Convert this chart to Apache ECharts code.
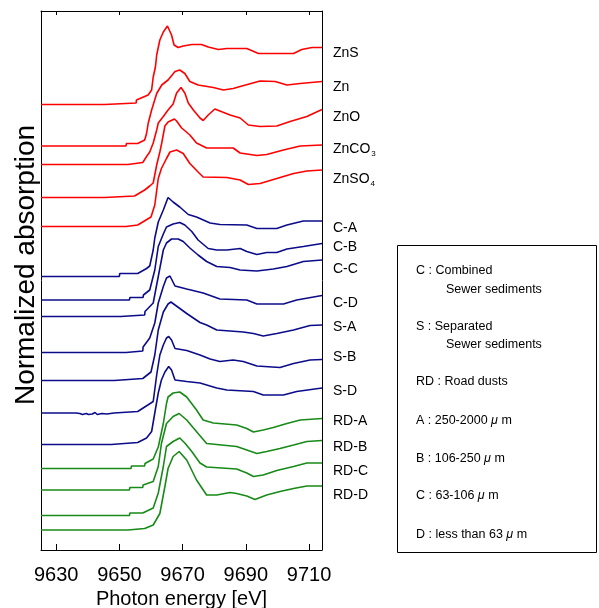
<!DOCTYPE html>
<html>
<head>
<meta charset="utf-8">
<script src="https://cdn.jsdelivr.net/npm/echarts@6/dist/echarts.min.js"></script>
<style>
html,body{margin:0;padding:0;background:#fff;}
#chart{width:599px;height:608px;}
</style>
</head>
<body>
<div id="chart"></div>
<script>
// ---------- data (energy eV, normalized absorption above pre-edge) ----------
const seriesNames = ['ZnS','Zn','ZnO','ZnCO3','ZnSO4','C-A','C-B','C-C','C-D','S-A','S-B','S-D','RD-A','RD-B','RD-C','RD-D'];
const stackOffsets = [8.91, 8.08, 7.71, 7.05, 6.47, 5.47, 5.00, 4.67, 3.95, 3.39, 2.74, 2.11, 1.63, 1.20, 0.69, 0.40];
const xTicks = [9630, 9650, 9670, 9690, 9710];

const ZnS = [[9625.2,0],[9645.3,0],[9645.4,0.03],[9655.3,0.03],[9655.4,0.09],[9659.1,0.19],[9660.2,0.29],[9660.7,0.55],[9661.4,0.75],[9661.8,0.99],[9662.8,1.29],[9663.9,1.45],[9665.2,1.57],[9666.5,1.39],[9667.3,1.19],[9668.6,1.14],[9670.2,1.17],[9672.9,1.2],[9676.0,1.2],[9678.1,1.15],[9681.3,1.1],[9684.0,1.12],[9690.3,1.12],[9694.0,1.02],[9705.1,1.02],[9707.7,1.1],[9710.9,1.14],[9714.1,1.14]];
const Zn = [[9625.2,0],[9652.1,0],[9652.2,0.05],[9655.8,0.05],[9655.9,0.09],[9658.0,0.12],[9658.6,0.25],[9659.1,0.45],[9660.2,0.72],[9661.8,1.05],[9663.4,1.22],[9665.4,1.32],[9667.6,1.49],[9669.1,1.52],[9670.7,1.45],[9672.3,1.29],[9674.9,1.22],[9679.7,1.17],[9682.9,1.12],[9686.0,1.15],[9688.2,1.19],[9694.5,1.3],[9699.3,1.29],[9703.0,1.22],[9707.2,1.25],[9714.1,1.29]];
const ZnO = [[9625.2,0],[9652.7,0],[9652.8,0.04],[9657.4,0.04],[9657.5,0.08],[9658.6,0.16],[9659.6,0.25],[9660.7,0.43],[9661.8,0.69],[9662.3,0.83],[9663.9,0.96],[9665.4,1.09],[9667.0,1.21],[9668.1,1.43],[9669.5,1.54],[9670.7,1.43],[9671.8,1.23],[9673.4,1.09],[9675.5,0.93],[9676.5,0.88],[9678.1,0.99],[9680.2,1.11],[9681.8,1.07],[9685.0,0.99],[9688.2,0.93],[9690.8,0.79],[9694.5,0.76],[9699.8,0.77],[9704.0,0.86],[9709.3,0.96],[9714.1,1.1]];
const ZnCO3 = [[9625.2,0],[9645.3,0],[9645.4,0.03],[9654.8,0.03],[9654.9,0.05],[9658.0,0.15],[9659.6,0.23],[9660.7,0.29],[9661.8,0.65],[9662.8,0.91],[9663.4,1.09],[9664.4,1.43],[9665.4,1.51],[9667.4,1.57],[9668.1,1.53],[9669.7,1.39],[9672.3,1.25],[9674.4,1.09],[9677.6,0.99],[9686.0,0.99],[9688.2,0.89],[9693.5,0.84],[9696.6,0.86],[9701.9,0.95],[9707.2,1.03],[9714.1,1.05]];
const ZnSO4 = [[9625.2,0],[9652.1,0],[9652.2,0.03],[9655.8,0.03],[9655.9,0.06],[9660.0,0.19],[9661.2,0.43],[9662.3,0.96],[9663.3,1.16],[9664.9,1.36],[9666.0,1.49],[9668.1,1.53],[9670.2,1.46],[9672.3,1.26],[9674.9,1.09],[9676.5,0.99],[9684.0,0.98],[9688.2,0.93],[9690.8,0.84],[9694.5,0.86],[9699.8,0.96],[9705.1,1.06],[9709.3,1.11],[9714.1,1.13]];
const CA = [[9625.2,0],[9650.0,0],[9650.1,0.06],[9655.8,0.06],[9655.9,0.09],[9658.6,0.16],[9659.6,0.21],[9660.7,0.53],[9661.2,0.77],[9662.3,1.09],[9663.9,1.33],[9665.4,1.58],[9667.0,1.49],[9669.1,1.39],[9671.8,1.24],[9674.4,1.19],[9678.7,1.07],[9681.8,1.04],[9690.3,1.03],[9693.5,0.96],[9699.8,0.96],[9703.0,1.03],[9708.2,1.11],[9714.1,1.11]];
const CB = [[9625.2,0],[9653.2,0],[9653.3,0.05],[9657.5,0.05],[9657.6,0.1],[9659.6,0.2],[9661.2,0.6],[9662.3,1.07],[9663.9,1.32],[9664.9,1.46],[9667.0,1.52],[9669.1,1.55],[9670.7,1.5],[9672.9,1.37],[9674.9,1.2],[9678.1,1.03],[9680.8,1.0],[9684.0,1.0],[9688.2,1.03],[9690.3,0.97],[9693.5,0.91],[9696.6,0.95],[9699.8,0.95],[9703.0,1.02],[9708.2,1.07],[9714.1,1.13]];
const CC = [[9625.2,0],[9650.4,0],[9650.5,0.03],[9658.0,0.03],[9658.1,0.1],[9660.7,0.27],[9662.3,0.8],[9663.9,1.33],[9664.9,1.47],[9666.5,1.55],[9668.6,1.55],[9670.2,1.5],[9672.3,1.37],[9674.9,1.23],[9677.6,1.1],[9680.8,1.0],[9685.0,0.98],[9688.2,0.93],[9693.5,0.91],[9698.7,0.95],[9703.0,1.0],[9708.2,1.1],[9714.1,1.13]];
const CD = [[9625.2,0],[9652.1,0],[9652.2,0.03],[9657.4,0.03],[9657.5,0.11],[9659.6,0.29],[9661.2,0.59],[9662.3,0.99],[9663.9,1.32],[9664.9,1.49],[9666.0,1.53],[9667.6,1.33],[9671.3,1.27],[9676.5,1.19],[9681.8,1.07],[9690.3,1.05],[9693.5,0.97],[9701.9,0.97],[9706.1,1.05],[9714.1,1.14]];
const SA = [[9625.2,0],[9648.4,0],[9648.5,0.04],[9657.4,0.04],[9657.5,0.07],[9660.0,0.17],[9661.2,0.51],[9662.3,1.01],[9663.9,1.37],[9665.4,1.53],[9666.3,1.57],[9667.6,1.51],[9671.3,1.34],[9675.5,1.16],[9677.6,1.11],[9680.8,1.01],[9689.2,0.97],[9692.4,0.94],[9695.5,0.89],[9699.8,0.94],[9705.1,1.01],[9710.3,1.1],[9714.1,1.11]];
const SB = [[9625.2,0],[9636.3,0],[9636.5,-0.03],[9637.5,-0.01],[9638.3,-0.03],[9639.5,-0.01],[9640.2,-0.03],[9641.4,-0.02],[9642.3,0.01],[9643.0,-0.03],[9644.5,-0.01],[9646.0,-0.02],[9648.3,0],[9648.4,0.03],[9655.8,0.03],[9655.9,0.07],[9659.0,0.16],[9660.7,0.23],[9661.8,0.76],[9662.8,1.16],[9663.9,1.36],[9664.9,1.5],[9665.6,1.53],[9666.5,1.46],[9667.6,1.29],[9671.3,1.25],[9675.5,1.16],[9678.7,1.08],[9681.8,1.03],[9686.0,1.06],[9689.2,1.03],[9693.5,0.94],[9700.8,0.91],[9705.1,0.99],[9710.3,1.06],[9714.1,1.07]];
const SD = [[9625.2,0],[9647.4,0],[9647.5,0.04],[9655.8,0.04],[9655.9,0.07],[9658.6,0.13],[9660.2,0.26],[9661.2,0.63],[9662.3,1.03],[9663.3,1.29],[9664.4,1.45],[9665.6,1.56],[9666.5,1.49],[9667.6,1.29],[9671.3,1.26],[9675.5,1.23],[9680.8,1.13],[9684.0,1.09],[9692.4,1.06],[9695.5,0.99],[9701.9,0.99],[9706.1,1.06],[9714.1,1.13]];
const RDA = [[9625.2,0],[9653.7,0],[9653.8,0.05],[9658.0,0.05],[9658.1,0.1],[9660.7,0.19],[9662.3,0.43],[9663.9,0.9],[9664.9,1.3],[9665.4,1.43],[9667.0,1.51],[9669.1,1.53],[9671.3,1.43],[9674.4,1.17],[9676.5,0.97],[9679.7,0.91],[9687.1,0.87],[9690.3,0.8],[9692.4,0.73],[9695.5,0.77],[9698.7,0.82],[9703.0,0.9],[9707.2,0.97],[9714.1,1.0]];
const RDB = [[9625.2,0],[9653.2,0],[9653.3,0.05],[9657.4,0.05],[9657.5,0.1],[9660.7,0.17],[9662.3,0.47],[9663.3,0.93],[9664.9,1.33],[9667.0,1.47],[9668.9,1.53],[9671.3,1.4],[9674.9,1.13],[9677.6,0.93],[9687.1,0.87],[9690.3,0.8],[9693.5,0.73],[9696.6,0.77],[9700.8,0.83],[9705.1,0.9],[9709.3,0.97],[9714.1,0.99]];
const RDC = [[9625.2,0],[9653.2,0],[9653.3,0.05],[9657.4,0.05],[9657.5,0.08],[9660.7,0.15],[9662.3,0.45],[9663.9,0.98],[9664.9,1.38],[9667.0,1.48],[9669.1,1.55],[9670.7,1.45],[9672.9,1.28],[9675.5,1.05],[9677.6,0.97],[9687.1,0.93],[9690.3,0.85],[9692.4,0.78],[9695.5,0.81],[9699.8,0.9],[9705.1,0.98],[9709.3,1.05],[9714.1,1.05]];
const RDD = [[9625.2,0],[9652.7,0],[9652.8,0.03],[9658.0,0.03],[9658.1,0.07],[9660.7,0.1],[9662.8,0.33],[9664.4,0.87],[9665.4,1.23],[9667.0,1.47],[9668.9,1.57],[9671.3,1.4],[9674.4,1.0],[9677.6,0.7],[9680.8,0.7],[9685.0,0.75],[9687.1,0.73],[9690.3,0.68],[9692.9,0.61],[9696.6,0.7],[9700.8,0.77],[9705.1,0.83],[9709.3,0.88],[9714.1,0.88]];

const spectra = [ZnS, Zn, ZnO, ZnCO3, ZnSO4, CA, CB, CC, CD, SA, SB, SD, RDA, RDB, RDC, RDD];

// ---------- styles ----------
const FONT = '"Liberation Sans", Arial, Helvetica, sans-serif';
const groupColor = ['#ff0000','#ff0000','#ff0000','#ff0000','#ff0000',
  '#0c0c8a','#0c0c8a','#0c0c8a','#0c0c8a','#0c0c8a','#0c0c8a','#0c0c8a',
  '#178a17','#178a17','#178a17','#178a17'];
const labelNudge = [6,6,7.5,4.5,9.5,7.5,4,9.5,8,2.5,-2,3,3,7,8,9.5];

const chart = echarts.init(document.getElementById('chart'), null, {renderer:'canvas'});

const series = spectra.map((sp, i) => ({
  type: 'line',
  name: seriesNames[i],
  xAxisIndex: 0, yAxisIndex: 0,
  showSymbol: false, symbol: 'none',
  silent: true,
  clip: true,
  lineStyle: { color: groupColor[i], width: 1.6 },
  data: sp.map(p => [p[0], p[1] + stackOffsets[i]]),
  endLabel: {
    show: true,
    distance: 11,
    offset: [0, labelNudge[i]],
    color: '#000',
    fontFamily: FONT,
    fontSize: 14,
    formatter: () => {
      const n = seriesNames[i];
      if (n === 'ZnCO3') return 'ZnCO{s|3}';
      if (n === 'ZnSO4') return 'ZnSO{s|4}';
      return n;
    },
    rich: { s: { fontSize: 8, fontFamily: FONT, color: '#000', padding: [9, 0, 0, 1] } }
  }
}));

const legendLines = [
  { t: 'C : Combined', x: 416, y: 271 },
  { t: 'Sewer sediments', x: 446, y: 290 },
  { t: 'S : Separated', x: 416, y: 327 },
  { t: 'Sewer sediments', x: 446, y: 345 },
  { t: 'RD : Road dusts', x: 416, y: 382 },
  { t: 'A : 250-2000 {i|μ} m', x: 416, y: 421 },
  { t: 'B : 106-250 {i|μ} m', x: 416, y: 459 },
  { t: 'C : 63-106 {i|μ} m', x: 416, y: 496 },
  { t: 'D : less than 63 {i|μ} m', x: 416, y: 535 }
];

const graphic = [{
  type: 'rect', shape: { x: 397.5, y: 245.5, width: 199, height: 307 },
  style: { fill: 'none', stroke: '#000', lineWidth: 1 }, silent: true
}, {
  type: 'text', x: 26, y: 265, rotation: Math.PI / 2, silent: true,
  style: { text: 'Normalized absorption', fill: '#000', font: '28px ' + FONT, align: 'center', verticalAlign: 'middle' }
}].concat(legendLines.map(l => ({
  type: 'text', x: l.x, y: l.y, silent: true,
  style: {
    text: l.t, fill: '#000', font: '12.5px ' + FONT,
    verticalAlign: 'middle', align: 'left',
    rich: { i: { fontStyle: 'italic', fontSize: 12.5, fontFamily: FONT, fill: '#000' } }
  }
})));

const option = {
  animation: false,
  backgroundColor: '#fff',
  textStyle: { fontFamily: FONT },
  grid: { left: 41, top: 11, width: 281, height: 539, containLabel: false, outerBoundsMode: 'none' },
  xAxis: [{
    type: 'value', min: 9625.2, max: 9714.1, position: 'bottom',
    axisLine: { show: true, onZero: false, lineStyle: { color: '#000', width: 1 } },
    axisTick: { show: true, inside: true, length: 6, customValues: xTicks, lineStyle: { color: '#000', width: 1 } },
    axisLabel: { show: true, customValues: xTicks, formatter: v => String(v), fontSize: 20, color: '#000', margin: 15, fontFamily: FONT },
    splitLine: { show: false },
    name: 'Photon energy [eV]', nameLocation: 'middle', nameGap: 37,
    nameTextStyle: { fontSize: 20, color: '#000', fontFamily: FONT }
  }, {
    type: 'value', min: 9625.2, max: 9714.1, position: 'top',
    axisLine: { show: true, onZero: false, lineStyle: { color: '#000', width: 1 } },
    axisTick: { show: true, inside: true, length: 4, customValues: xTicks, lineStyle: { color: '#000', width: 1 } },
    axisLabel: { show: false },
    splitLine: { show: false }
  }],
  yAxis: [{
    type: 'value', min: 0, max: 10.78, position: 'left',
    axisLine: { show: true, onZero: false, lineStyle: { color: '#000', width: 1 } },
    axisTick: { show: false }, axisLabel: { show: false }, splitLine: { show: false }
  }, {
    type: 'value', min: 0, max: 10.78, position: 'right',
    axisLine: { show: true, onZero: false, lineStyle: { color: '#000', width: 1 } },
    axisTick: { show: false }, axisLabel: { show: false }, splitLine: { show: false }
  }],
  series: series,
  graphic: graphic
};
chart.setOption(option);
</script>
</body>
</html>
